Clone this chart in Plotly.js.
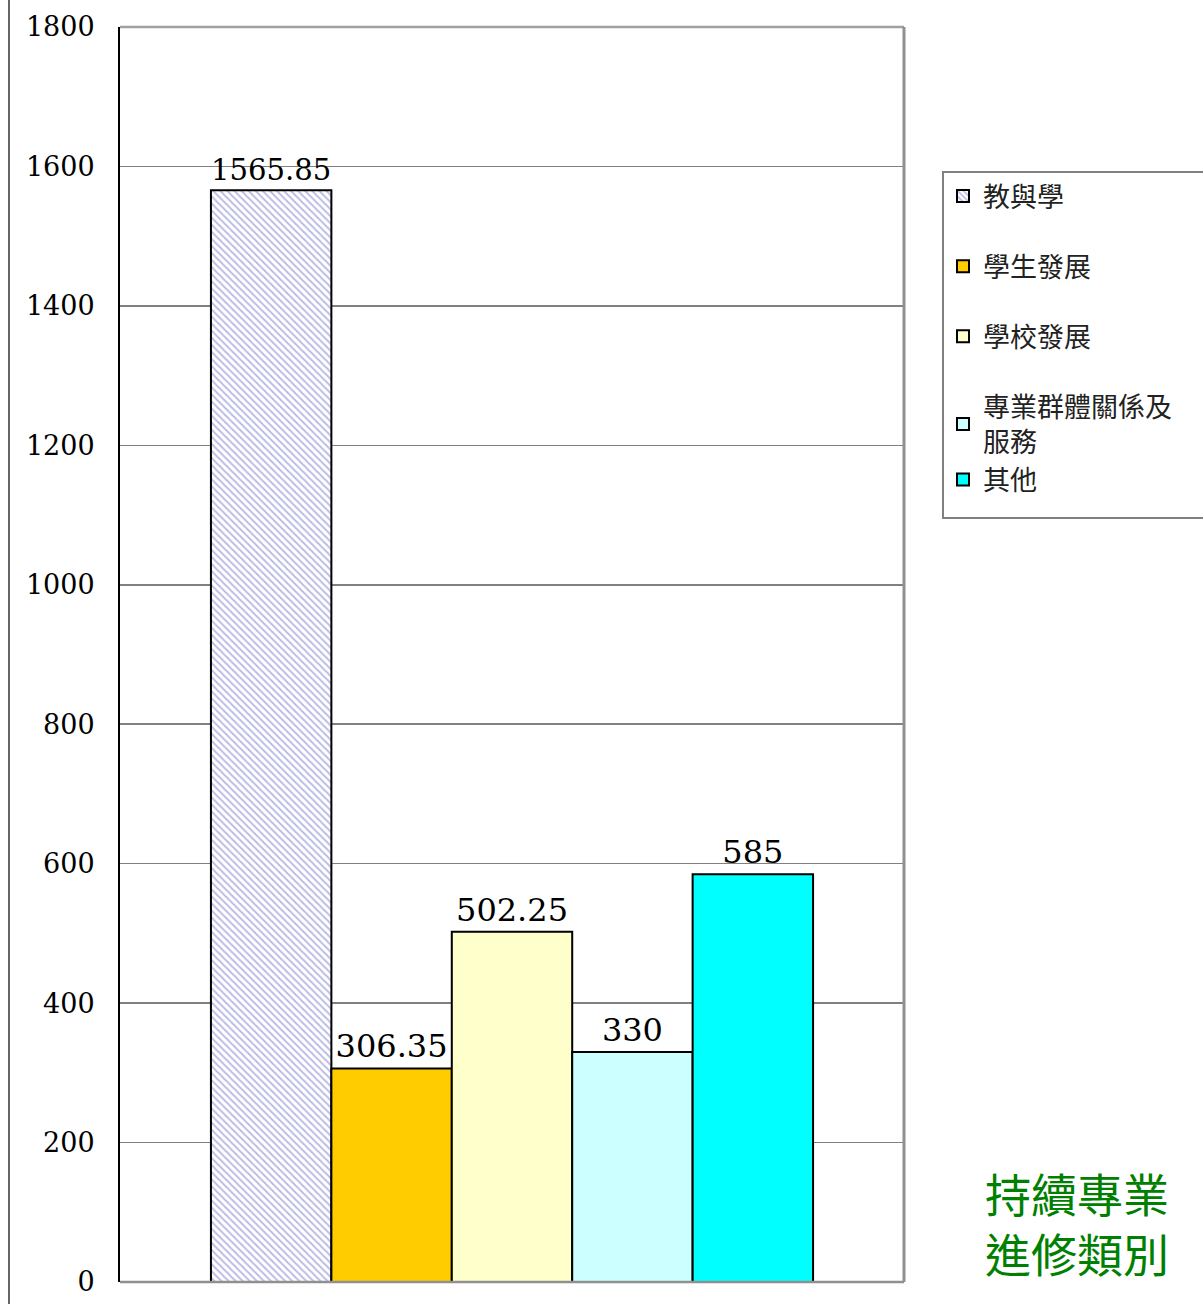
<!DOCTYPE html>
<html>
<head>
<meta charset="utf-8">
<script src="https://cdn.plot.ly/plotly-3.0.1.min.js"></script>
<style>html,body{margin:0;padding:0;background:#fff;}#chart{width:1203px;height:1304px;}</style>
</head>
<body>
<div id="chart"></div>
<script>
const categories = ['教與學', '學生發展', '學校發展', '專業群體關係及<br>服務', '其他'];
const values = [1565.85, 306.35, 502.25, 330, 585];
const colors = ['#ffffff', '#ffcc00', '#ffffcc', '#ccffff', '#00ffff'];
const legendGroups = ['g1', 'g2', 'g3', 'g4', 'g4'];
const yTicks = [0, 200, 400, 600, 800, 1000, 1200, 1400, 1600, 1800];
const titleText = '持續專業<br>進修類別';

const traces = categories.map((name, i) => {
  const t = {
    type: 'bar',
    name: name,
    x: ['c'],
    y: [values[i]],
    text: [String(values[i])],
    textposition: 'outside',
    cliponaxis: false,
    textfont: {family: 'DejaVu Serif', size: 32, color: '#000'},
    legendgroup: legendGroups[i],
    marker: {color: colors[i], line: {color: '#000', width: 2}},
    hoverinfo: 'none'
  };
  if (i === 0) {
    t.marker.pattern = {shape: '\\', fgcolor: '#7777cc', bgcolor: '#ffffff', size: 5, solidity: 0.4, fillmode: 'overlay'};
  }
  return t;
});

const W = 1203, H = 1304, L = 120, R = 904, T = 27, B = 1282;
const pw = R - L, ph = B - T;
const px = x => (x - L) / pw;
const py = y => (B - y) / ph;

const layout = {
  width: W, height: H,
  margin: {l: L, r: W - R, t: T, b: H - B, pad: 0},
  paper_bgcolor: '#ffffff',
  plot_bgcolor: '#ffffff',
  barmode: 'group',
  bargap: 0.232,
  bargroupgap: 0,
  showlegend: true,
  legend: {
    x: px(943), y: py(172), xanchor: 'left', yanchor: 'top',
    borderwidth: 0, bgcolor: 'rgba(0,0,0,0)',
    font: {family: 'Noto Sans CJK TC', size: 27, color: '#222'},
    tracegroupgap: 32,
    traceorder: 'grouped',
    itemwidth: 30
  },
  xaxis: {
    type: 'category', showticklabels: false, showgrid: false, zeroline: false,
    showline: false, ticks: ''
  },
  yaxis: {
    range: [0, 1800], tickvals: yTicks, ticktext: yTicks.map(String),
    showgrid: true, gridcolor: '#808080', gridwidth: 1.5,
    zeroline: false, showline: true, linecolor: '#000', linewidth: 2,
    ticks: '', ticklabelstandoff: 18,
    tickfont: {family: 'DejaVu Serif', size: 27, color: '#000'}
  },
  shapes: [
    {type: 'line', xref: 'paper', yref: 'paper', x0: 0, x1: 1, y0: 1, y1: 1, line: {color: '#a0a0a0', width: 2.5}, layer: 'above'},
    {type: 'line', xref: 'paper', yref: 'paper', x0: 1, x1: 1, y0: 0, y1: 1, line: {color: '#909090', width: 3}, layer: 'above'},
    {type: 'line', xref: 'paper', yref: 'paper', x0: 0, x1: 1, y0: 0, y1: 0, line: {color: '#909090', width: 2.5}, layer: 'above'},
    {type: 'line', xref: 'paper', yref: 'paper', x0: px(9), x1: px(9), y0: py(0), y1: py(1304), line: {color: '#333', width: 1.5}},
    {type: 'rect', xref: 'paper', yref: 'paper', x0: px(943), x1: px(1215), y0: py(518), y1: py(172), line: {color: '#808080', width: 2}, fillcolor: 'rgba(0,0,0,0)'}
  ],
  annotations: [{
    xref: 'paper', yref: 'paper', x: px(1077), y: py(1222),
    xanchor: 'center', yanchor: 'middle', text: titleText, showarrow: false, align: 'left',
    font: {family: 'Noto Sans CJK TC', size: 46, color: '#008000'}
  }]
};

Plotly.newPlot('chart', traces, layout, {displayModeBar: false, staticPlot: true});
</script>
</body>
</html>
